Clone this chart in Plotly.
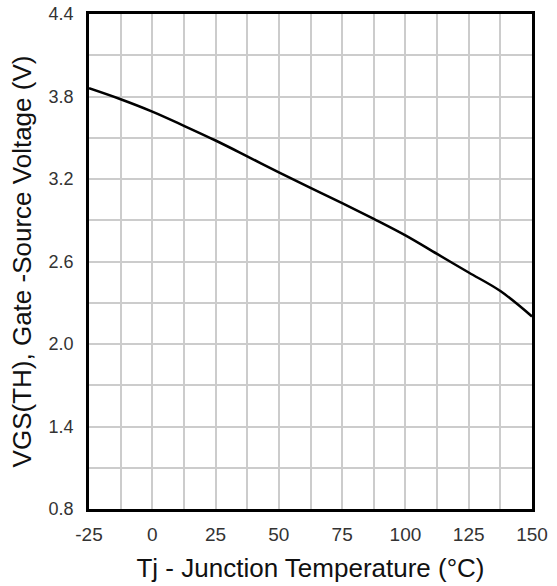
import plotly.graph_objects as go

temps = [-25, -12.5, 0, 12.5, 25, 37.5, 50, 62.5, 75, 87.5, 100, 112.5, 125, 137.5, 150]
vgs_th = [3.86, 3.78, 3.69, 3.587, 3.48, 3.365, 3.248, 3.135, 3.025, 2.91, 2.79, 2.655, 2.52, 2.385, 2.20]

x_ticks = [-25, 0, 25, 50, 75, 100, 125, 150]
x_tick_text = ["-25", "0", "25", "50", "75", "100", "125", "150"]
y_ticks = [0.8, 1.4, 2.0, 2.6, 3.2, 3.8, 4.4]
y_tick_text = ["0.8", "1.4", "2.0", "2.6", "3.2", "3.8", "4.4"]

fig = go.Figure()
fig.add_trace(go.Scatter(
    x=temps, y=vgs_th, mode="lines",
    line=dict(color="black", width=2.5, shape="spline", smoothing=1.0),
    showlegend=False, hoverinfo="skip",
))

font_family = "Liberation Sans, Arial, sans-serif"
grid = "#cccccc"

fig.update_layout(
    width=557, height=586,
    margin=dict(l=89, r=25, t=14, b=77, autoexpand=False),
    paper_bgcolor="white", plot_bgcolor="white",
    font=dict(family=font_family, color="#222"),
    xaxis=dict(
        range=[-25, 150], tickvals=x_ticks, ticktext=x_tick_text,
        showgrid=True, gridcolor=grid, gridwidth=1.5,
        minor=dict(dtick=12.5, tick0=-25, showgrid=True, gridcolor=grid, gridwidth=1.5),
        showline=True, linecolor="black", linewidth=2.5, mirror=True,
        ticks="", zeroline=False, automargin=False,
        tickfont=dict(size=19, color="#333"),
        ticklabelstandoff=6,
        title=dict(text="Tj - Junction Temperature (°C)", font=dict(size=26, color="#111"), standoff=16),
    ),
    yaxis=dict(
        range=[0.8, 4.4], tickvals=y_ticks, ticktext=y_tick_text,
        showgrid=True, gridcolor=grid, gridwidth=1.5,
        minor=dict(dtick=0.3, tick0=0.8, showgrid=True, gridcolor=grid, gridwidth=1.5),
        showline=True, linecolor="black", linewidth=2.5, mirror=True,
        ticks="", zeroline=False, automargin=False,
        tickfont=dict(size=18, color="#333"),
        ticklabelstandoff=9,
        title=dict(text="VGS(TH), Gate -Source Voltage (V)", font=dict(size=26, color="#111"), standoff=10),
    ),
)

fig.write_html(
    "out.html",
    config={"displayModeBar": False},
    post_script="document.body.style.margin='0';document.body.style.padding='0';",
)
